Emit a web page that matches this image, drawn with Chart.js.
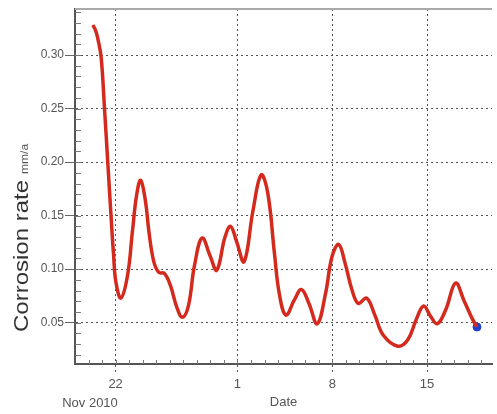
<!DOCTYPE html>
<html>
<head>
<meta charset="utf-8">
<script src="https://cdn.jsdelivr.net/npm/chart.js"></script>
<style>
  body { margin: 0; background: #fff; }
  canvas { display: block; }
</style>
</head>
<body>
<canvas id="myChart" width="497" height="414"></canvas>
<script>
// days counted from 22 Nov 2010
const days = [-1.68, -1.48, -1.31, -1.07, -0.82, -0.58, -0.34, -0.15, 0.02, 0.39, 0.88,
  1.24, 1.55, 1.85, 2.21, 2.46, 2.82, 3.19, 3.60, 4.04, 4.53,
  4.93, 5.38, 5.82, 6.39, 6.99, 7.47, 8.08, 8.49, 8.93, 9.49,
  10.15, 10.75, 11.24, 11.73, 12.09, 12.58, 13.19, 13.72, 14.28, 14.89,
  15.50, 15.99, 16.48, 16.96, 17.45, 17.93, 18.54, 19.15, 19.76, 20.85,
  21.58, 22.19, 22.75, 23.28, 23.77, 24.38, 25.11, 25.72, 26.33, 26.69];

const rate = [0.328, 0.323, 0.315, 0.298, 0.250, 0.200, 0.150, 0.113, 0.088, 0.073, 0.094,
  0.135, 0.169, 0.183, 0.163, 0.135, 0.107, 0.097, 0.096, 0.085, 0.064,
  0.055, 0.066, 0.103, 0.129, 0.112, 0.099, 0.130, 0.140, 0.126, 0.107,
  0.155, 0.188, 0.171, 0.115, 0.077, 0.057, 0.071, 0.081, 0.068, 0.049,
  0.077, 0.112, 0.123, 0.105, 0.081, 0.068, 0.073, 0.057, 0.0385, 0.028,
  0.034, 0.0525, 0.0656, 0.0556, 0.049, 0.062, 0.087, 0.071, 0.054, 0.046];

const xTickDays = [0, 9, 16, 23];
const xTickLabels = ["22", "1", "8", "15"];
const yTicks = [0.05, 0.10, 0.15, 0.20, 0.25, 0.30];

const points = days.map((d, i) => ({ x: d, y: rate[i] }));
const lastPoint = [points[points.length - 1]];

const font = "'Liberation Sans', Arial, sans-serif";

const decorations = {
  id: "decorations",
  beforeDatasetsDraw(chart) {
    const { ctx, chartArea, scales } = chart;
    const x = scales.x;
    const y = scales.y;
    ctx.save();
    ctx.strokeStyle = "#777";
    ctx.lineWidth = 1;
    ctx.beginPath();
    for (let d = -2; d <= 27; d++) {
      const px = Math.round(x.getPixelForValue(d)) + 0.5;
      ctx.moveTo(px, chartArea.bottom);
      ctx.lineTo(px, chartArea.bottom - 4);
    }
    for (let i = 2; i <= 34; i++) {
      const py = Math.round(y.getPixelForValue(i / 100)) + 0.5;
      ctx.moveTo(chartArea.left, py);
      ctx.lineTo(chartArea.left + 6, py);
    }
    ctx.stroke();

    // top frame line
    ctx.strokeStyle = "#aaa";
    ctx.lineWidth = 2;
    ctx.beginPath();
    ctx.moveTo(chartArea.left, chartArea.top);
    ctx.lineTo(chartArea.right, chartArea.top);
    ctx.stroke();
    ctx.restore();
  },
  afterDraw(chart) {
    const { ctx } = chart;
    ctx.save();
    ctx.fillStyle = "#555";
    ctx.font = "13px " + font;
    ctx.textAlign = "center";
    ctx.textBaseline = "middle";
    ctx.fillText("Nov 2010", 90, 403);

    // y axis title
    ctx.translate(28, 332);
    ctx.rotate(-Math.PI / 2);
    ctx.scale(1.2, 1);
    ctx.textAlign = "left";
    ctx.textBaseline = "alphabetic";
    ctx.fillStyle = "#333";
    ctx.font = "20px " + font;
    ctx.fillText("Corrosion rate", 0, 0);
    const w = ctx.measureText("Corrosion rate").width;
    ctx.fillStyle = "#555";
    ctx.font = "10px " + font;
    ctx.fillText("mm/a", w + 5, 0);
    ctx.restore();
  },
};

const chart = new Chart("myChart", {
  type: "line",
  data: {
    datasets: [
      {
        data: points,
        borderColor: "#d42a1e",
        borderWidth: 3.5,
        pointRadius: 0,
        tension: 0.4,
        fill: false,
      },
      {
        data: lastPoint,
        showLine: false,
        pointRadius: 4,
        pointBackgroundColor: "#1f3fcf",
        pointBorderColor: "#1f3fcf",
      },
    ],
  },
  options: {
    responsive: false,
    animation: false,
    layout: { padding: { top: 9, left: 0, right: 0, bottom: 0 } },
    plugins: {
      legend: { display: false },
      tooltip: { enabled: false },
    },
    scales: {
      x: {
        type: "linear",
        min: -3,
        max: 27.8,
        afterBuildTicks: (scale) => {
          scale.ticks = xTickDays.map((v) => ({ value: v }));
        },
        afterFit: (scale) => {
          scale.height = 50;
        },
        ticks: {
          autoSkip: false,
          maxRotation: 0,
          padding: 2,
          color: "#555",
          font: { size: 13, family: font },
          callback: (v) => xTickLabels[xTickDays.indexOf(v)],
        },
        grid: {
          color: "#555",
          lineWidth: 1,
          tickLength: 11,
          tickColor: "#555",
          tickBorderDash: [2, 3],
        },
        border: { display: true, color: "#555", width: 2, dash: [2, 3] },
        title: {
          display: true,
          text: "Date",
          color: "#555",
          font: { size: 13, family: font },
          padding: { top: 0, bottom: 4 },
        },
      },
      y: {
        min: 0.0114,
        max: 0.343,
        afterBuildTicks: (scale) => {
          scale.ticks = yTicks.map((v) => ({ value: v }));
        },
        afterFit: (scale) => {
          scale.width = 75;
        },
        ticks: {
          padding: 1,
          color: "#555",
          font: { size: 12, family: font },
          callback: (v) => v.toFixed(2),
        },
        grid: {
          color: "#555",
          lineWidth: 1,
          tickLength: 10,
          tickColor: "#666",
          tickBorderDash: [],
        },
        border: { display: true, color: "#555", width: 2, dash: [2, 3] },
      },
    },
  },
  plugins: [decorations],
});
</script>
</body>
</html>
